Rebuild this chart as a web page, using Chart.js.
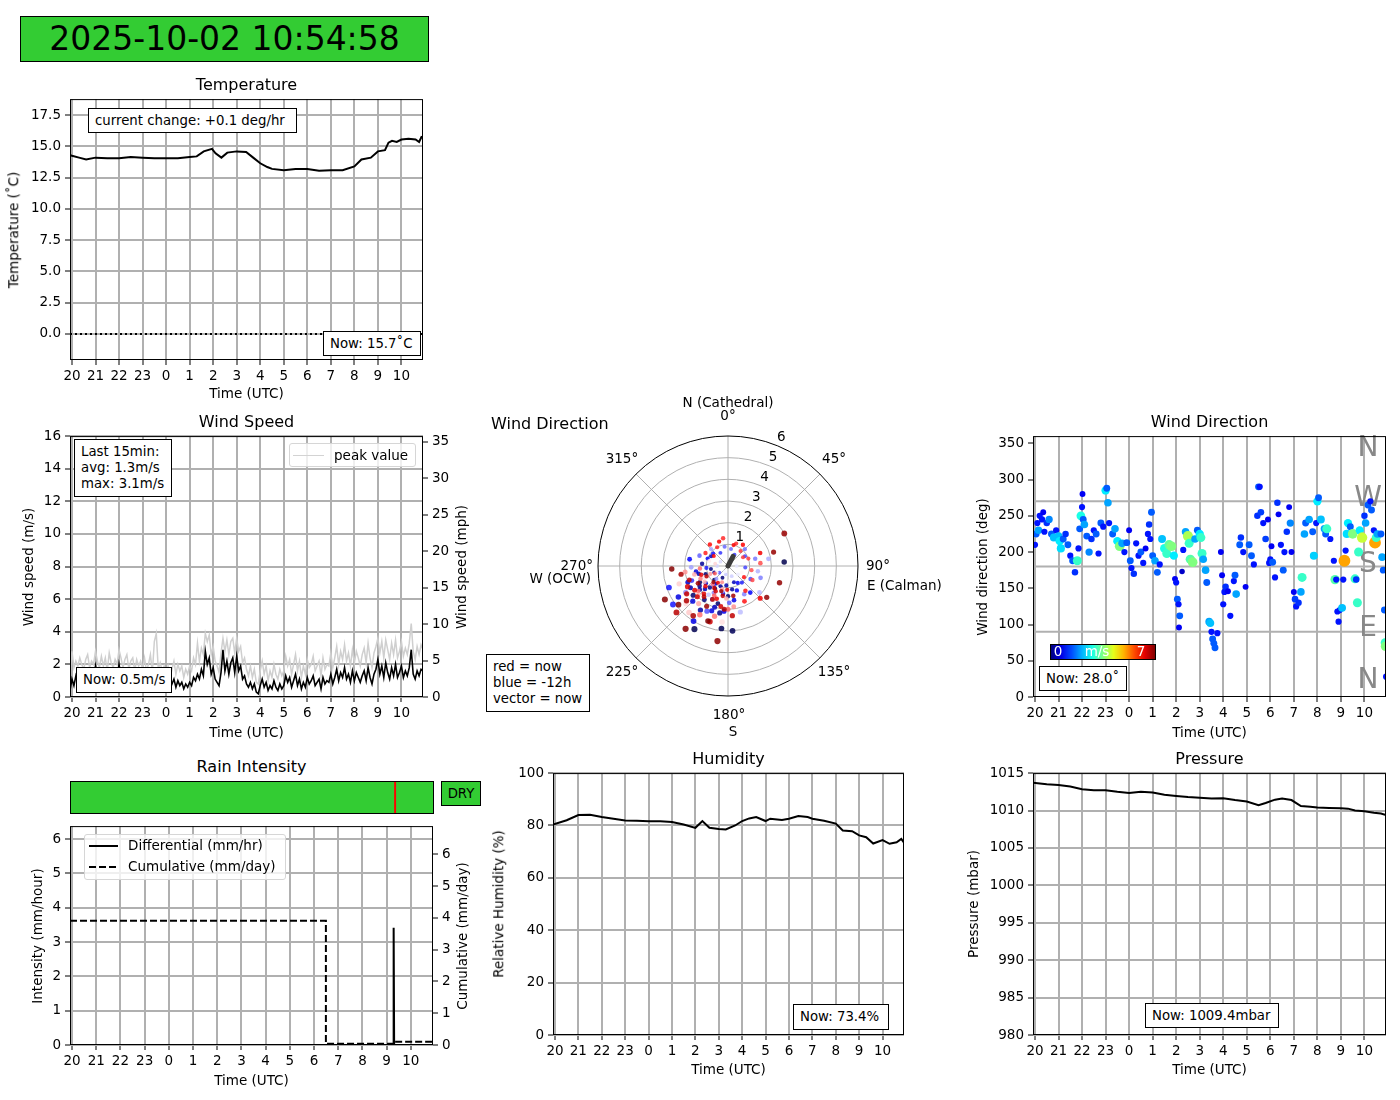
<!DOCTYPE html>
<html>
<head>
<meta charset="utf-8">
<script src="https://cdn.jsdelivr.net/npm/chart.js@4.4.1/dist/chart.umd.min.js"></script>
<style>
  body { margin: 0; background: #fff; }
  #page { position: relative; width: 1400px; height: 1100px; overflow: hidden; background: #fff;
          font-family: 'DejaVu Sans', sans-serif; color: #000; }
  #page canvas { position: absolute; }
  .lbl { position: absolute; white-space: pre; line-height: 1; }
  .box { position: absolute; box-sizing: border-box; border: 1px solid #000; background: #fff;
         font-size: 13.3px; white-space: pre; display: flex; align-items: center; padding-left: 6px; line-height: 16px; }
</style>
</head>
<body>
<div id="page">
  <canvas id="cTemp"></canvas>
  <canvas id="cWind"></canvas>
  <canvas id="cPolar"></canvas>
  <canvas id="cDir"></canvas>
  <canvas id="cRainBar"></canvas>
  <canvas id="cRain"></canvas>
  <canvas id="cHum"></canvas>
  <canvas id="cPres"></canvas>
</div>
<script>
// time axis: hours, 19:55 yesterday .. 10:55 today (hours < 19 belong to today, +24)
var X_MIN = 19.916, X_MAX = 34.916;
var hourTicks = [20, 21, 22, 23, 24, 25, 26, 27, 28, 29, 30, 31, 32, 33, 34];

// Temperature
var tempHours = [19.92, 20.0, 20.3, 20.6, 21.0, 21.5, 22.0, 22.5, 23.0, 23.5,
                 0.0, 0.5, 1.0, 1.3, 1.6, 1.95, 2.1, 2.35, 2.6, 3.0,
                 3.4, 3.7, 4.0, 4.3, 4.5, 5.0, 5.5, 6.0, 6.5, 7.0,
                 7.5, 8.0, 8.3, 8.7, 9.0, 9.3, 9.45, 9.6, 9.8, 10.0,
                 10.3, 10.6, 10.75, 10.85, 10.916];
var tempValues = [14.3, 14.25, 14.1, 13.95, 14.1, 14.05, 14.05, 14.15, 14.1, 14.05,
                  14.05, 14.05, 14.15, 14.2, 14.6, 14.8, 14.45, 14.1, 14.5, 14.6,
                  14.55, 14.1, 13.65, 13.35, 13.2, 13.1, 13.2, 13.2, 13.05, 13.1,
                  13.1, 13.4, 13.95, 14.1, 14.6, 14.7, 15.3, 15.45, 15.35, 15.55,
                  15.6, 15.55, 15.35, 15.75, 15.7];
var tempTicks = [0, 2.5, 5, 7.5, 10, 12.5, 15, 17.5];
var freezing = 0;

// Wind speed, 5 minute samples from 19:55
var windStep = 1 / 12;
var windAvg = [
  0.4, 1.1, 0.7, 1.3, 0.9, 1.5, 1.0, 0.8, 1.2, 1.6, 0.9, 1.3,
  1.1, 1.9, 1.2, 0.9, 1.4, 1.0, 1.3, 0.8, 1.5, 1.1, 0.9, 1.2,
  1.0, 2.0, 1.3, 0.9, 1.2, 1.5, 0.8, 1.1, 1.3, 0.7, 1.2, 0.9,
  1.1, 0.8, 1.3, 0.7, 1.0, 1.4, 0.6, 0.9, 1.2, 0.8, 1.0, 0.7,
  0.9, 0.6, 0.9, 0.5, 0.8, 1.1, 0.6, 1.0, 0.7, 0.9, 0.5, 0.8,
  0.6, 0.9, 0.7, 1.2, 1.0, 1.4, 1.1, 1.7, 1.3, 2.8, 2.0, 2.4,
  1.4, 1.8, 1.1, 0.9, 0.7, 1.5, 2.9, 1.6, 2.2, 1.4, 2.1, 2.4,
  1.5, 2.5, 1.6, 1.9, 1.1, 1.3, 0.8, 0.6, 0.9, 0.5, 0.8, 0.3,
  0.2, 0.7, 1.1, 0.6, 0.9, 0.4, 0.7, 0.5, 1.0, 0.6, 0.4, 0.8,
  0.5, 0.7, 1.3, 0.9, 1.2, 0.6, 1.0, 1.4, 0.7, 1.1, 0.5, 0.9,
  0.6, 1.2, 0.8, 1.0, 1.3, 0.7, 0.9, 1.1, 0.5, 1.2, 0.8, 1.0,
  0.9, 1.4, 0.8, 1.2, 1.7, 1.0, 1.5, 1.2, 1.8, 1.1, 1.4, 0.9,
  1.6, 1.0, 1.5, 1.2, 0.9, 1.3, 1.6, 1.0, 1.8, 1.2, 0.8, 1.4,
  1.7, 2.3, 1.4, 1.9, 1.2, 2.1, 1.5, 1.1, 1.8, 1.3, 2.0, 1.2,
  1.5, 1.9, 1.2, 1.6, 1.3, 1.8, 2.9, 1.4, 1.1, 1.6, 1.3, 1.7,
  1.6];
var windPeak = [
  1.2, 2.8, 1.8, 2.2, 1.9, 2.4, 2.0, 1.7, 2.3, 2.6, 1.8, 2.2,
  2.0, 2.8, 2.2, 1.8, 2.5, 1.9, 2.4, 1.6, 2.7, 2.1, 1.8, 2.3,
  2.0, 2.9, 2.4, 1.8, 2.3, 2.6, 1.7, 2.2, 2.4, 1.6, 2.3, 1.9,
  2.2, 1.7, 2.4, 1.6, 2.0, 2.6, 1.5, 3.4, 3.9, 1.7, 2.1, 1.6,
  1.9, 1.4, 1.9, 1.2, 1.7, 2.2, 1.4, 2.0, 1.6, 1.9, 1.2, 1.7,
  1.4, 1.9, 1.6, 2.4, 2.0, 3.3, 2.2, 3.0, 2.6, 3.9, 3.4, 3.8,
  2.6, 3.1, 2.2, 1.9, 1.5, 2.7, 3.6, 2.8, 3.5, 2.6, 3.4, 3.6,
  2.7, 3.6, 2.8, 3.1, 2.1, 2.4, 1.7, 1.3, 1.9, 1.2, 1.7, 0.9,
  0.8, 1.6, 2.2, 1.4, 1.9, 1.0, 1.6, 1.2, 2.0, 1.4, 1.1, 1.7,
  1.3, 1.6, 2.5, 1.9, 2.3, 1.4, 2.0, 2.6, 1.6, 2.2, 1.2, 1.9,
  1.4, 2.3, 1.8, 2.0, 2.5, 1.6, 1.9, 2.2, 1.3, 2.4, 1.7, 2.0,
  1.9, 2.7, 1.8, 2.4, 3.1, 2.0, 2.8, 2.3, 3.2, 2.2, 2.7, 1.9,
  2.9, 2.1, 2.8, 2.4, 1.9, 2.6, 3.0, 2.1, 3.3, 2.4, 1.8, 2.7,
  3.1, 3.6, 2.7, 3.4, 2.4, 3.5, 2.9, 2.3, 3.3, 2.6, 3.5, 2.4,
  2.8, 3.4, 2.5, 3.0, 2.6, 3.3, 4.5, 2.8, 2.3, 3.1, 2.6, 3.2,
  2.9];
var windTicks = [0, 2, 4, 6, 8, 10, 12, 14, 16];
var mphTicks = [0, 5, 10, 15, 20, 25, 30, 35];
var MPH_PER_MPS = 2.23694;

// Wind direction polar: direction (deg), speed (m/s), oldest (blue) to newest (red)
var polarDirDeg = [
  86, 208, 186, 176, 210, 225, 240, 195, 230, 250,
  205, 180, 215, 260, 235, 190, 220, 245, 200, 275,
  170, 230, 212, 255, 185, 240, 300, 160, 225, 198,
  215, 232, 248, 205, 190, 260, 225, 238, 200, 212,
  170, 185, 160, 150, 140, 280, 290, 310, 250, 235,
  265, 140, 218, 248, 330, 30, 60, 95, 120, 205,
  232, 178, 290, 350, 10, 45, 75, 110, 150, 208,
  238, 222, 192, 268, 315, 80, 100, 130, 165, 214,
  195, 160, 270, 300, 20, 90, 130, 240, 210, 340,
  55, 115, 175, 285, 244, 186, 228, 280, 250, 220,
  226, 204, 236, 183, 256, 218, 194, 246, 262, 172,
  200, 220, 245, 195, 230, 210, 265, 180, 205, 240,
  100, 85, 120, 70, 60, 40, 20, 350, 330, 300,
  145, 155, 125, 320, 305, 35, 15, 340, 68, 135,
  228, 211, 199, 252, 234, 182, 221, 243, 206, 190,
  225, 212, 198, 236, 250, 190, 175, 218, 244, 228,
  205, 230, 185, 260, 215, 195, 240, 170, 222, 208,
  60, 73, 108, 129, 188, 214, 242, 267, 232, 200];
var polarSpeed = [
  2.6, 3.3, 2.9, 3.0, 1.2, 0.9, 1.5, 1.8, 2.1, 1.1,
  0.6, 1.4, 1.9, 0.8, 1.6, 2.2, 1.3, 0.7, 1.0, 1.2,
  1.1, 1.7, 2.4, 1.4, 0.9, 2.0, 0.9, 0.8, 1.5, 2.0,
  1.0, 1.3, 2.0, 1.7, 1.3, 1.5, 2.3, 2.7, 2.2, 3.0,
  1.6, 2.1, 1.2, 0.9, 1.6, 1.8, 1.0, 0.9, 2.9, 3.1,
  1.0, 1.0, 1.1, 1.8, 0.7, 0.6, 0.9, 0.8, 1.2, 2.3,
  0.5, 1.7, 1.4, 0.9, 0.8, 1.1, 1.3, 1.6, 1.5, 1.4,
  2.3, 0.8, 1.2, 1.7, 1.1, 1.9, 1.4, 1.9, 2.2, 1.6,
  0.4, 0.5, 0.5, 0.4, 0.3, 0.4, 0.6, 0.6, 0.3, 0.5,
  0.5, 0.7, 0.7, 0.9, 1.2, 2.6, 2.6, 0.6, 2.4, 2.8,
  1.9, 1.7, 1.3, 1.5, 1.6, 2.2, 1.1, 0.9, 2.0, 1.9,
  0.8, 1.1, 1.4, 2.4, 1.8, 2.6, 1.3, 2.0, 1.5, 0.7,
  1.1, 1.5, 1.3, 1.0, 0.8, 0.9, 1.1, 1.3, 1.0, 1.2,
  1.4, 1.8, 0.9, 1.3, 0.8, 1.2, 1.0, 1.2, 1.6, 2.1,
  1.4, 0.9, 1.6, 1.3, 1.9, 1.1, 1.7, 2.1, 1.3, 1.9,
  2.0, 1.2, 2.7, 2.3, 1.9, 1.4, 2.3, 1.8, 1.1, 3.2,
  1.7, 2.5, 2.0, 2.2, 2.8, 1.2, 1.6, 1.4, 1.0, 2.1,
  3.0, 2.2, 2.5, 2.3, 3.5, 3.5, 3.3, 2.6, 2.9, 2.7];
var polarRMax = 6;
var polarRings = [1, 2, 3, 4, 5];
var polarSpokes = [0, 45, 90, 135, 180, 225, 270, 315];
var nowDirDeg = 28.0, nowSpeed = 0.5;

// Wind direction vs time, coloured by speed
var windDirHour = [
  20.0, 20.05, 20.1, 20.15, 20.2, 20.3, 20.35, 20.4, 20.5, 20.6, 20.7, 20.8, 20.9,
  21.0, 21.05, 21.1, 21.2, 21.3, 21.4, 21.5, 21.6, 21.7, 21.8, 21.85, 21.9, 21.95,
  22.0, 22.02, 22.05, 22.1, 22.2, 22.3, 22.4, 22.5, 22.6, 22.7, 22.8, 22.9,
  23.0, 23.05, 23.1, 23.15, 23.3, 23.4, 23.5, 23.6, 23.7, 23.8, 23.9,
  0.0, 0.05, 0.1, 0.2, 0.3, 0.4, 0.5, 0.6, 0.7, 0.8, 0.85, 0.9, 0.95,
  1.0, 1.1, 1.2, 1.3, 1.4, 1.5, 1.6, 1.7, 1.8, 1.9, 1.95,
  2.0, 2.05, 2.1, 2.12, 2.15, 2.25, 2.3, 2.4, 2.5, 2.55, 2.6, 2.7, 2.8, 2.9,
  3.0, 3.05, 3.1, 3.15, 3.25, 3.3, 3.4, 3.45, 3.5, 3.55, 3.6, 3.65, 3.75, 3.9, 3.95,
  4.0, 4.05, 4.1, 4.2, 4.3, 4.45, 4.5, 4.55, 4.7, 4.75, 4.85, 4.95,
  5.1, 5.2, 5.3, 5.45, 5.5, 5.55, 5.6, 5.7, 5.8, 5.9, 5.95,
  6.0, 6.05, 6.1, 6.2, 6.3, 6.35, 6.45, 6.55, 6.6, 6.7, 6.8, 6.85, 6.9,
  7.0, 7.05, 7.1, 7.2, 7.3, 7.35, 7.45, 7.5, 7.65, 7.8, 7.85, 7.95,
  8.0, 8.05, 8.15, 8.3, 8.35, 8.4, 8.55, 8.7, 8.75, 8.8, 8.85, 8.9, 8.95,
  9.05, 9.1, 9.15, 9.2, 9.25, 9.3, 9.4, 9.5, 9.6, 9.65, 9.7, 9.75, 9.8, 9.9,
  10.0, 10.05, 10.15, 10.25, 10.3, 10.4, 10.45, 10.5, 10.55, 10.7, 10.75, 10.8, 10.85, 10.88, 10.9, 10.92];
var windDirDeg = [
  210, 225, 240, 230, 250, 245, 255, 228, 240, 245, 225, 220, 230,
  222, 215, 205, 218, 225, 210, 195, 188, 172, 188, 205, 232, 250,
  262, 280, 245, 238, 222, 200, 218, 230, 225, 198, 240, 235,
  285, 288, 268, 240, 225, 232, 215, 208, 212, 200, 213,
  230, 188, 178, 170, 212, 195, 200, 185, 205, 225, 238, 218, 255,
  195, 188, 172, 183, 218, 205, 198, 210, 208, 195, 163,
  158, 135, 128, 96, 112, 173, 203, 228, 222, 212, 190, 186, 218, 230,
  225, 220, 198, 190, 175, 158, 104, 102, 90, 80, 74, 68, 88, 200, 168,
  128, 145, 152, 146, 112, 160, 168, 142, 210, 220, 200, 152,
  210, 195, 183, 250, 290, 290, 255, 240, 218, 245, 185,
  190, 208, 186, 165, 268, 252, 210, 175, 200, 228, 262, 240, 200,
  145, 135, 125, 130, 145, 165, 225, 240, 245, 228, 195, 240,
  270, 275, 245, 232, 225, 232, 218, 188, 162, 162, 118, 104, 120,
  123, 162, 188, 202, 225, 240, 235, 225, 163, 162, 130, 200, 230, 220,
  250, 240, 265, 270, 258, 230, 213, 220, 225, 225, 193, 175, 120, 75, 70, 28];
var windDirSpeed = [
  1, 1.5, 1, 2, 1, 1, 0.8, 1, 1.2, 1.8, 1.5, 2.2, 1,
  2.2, 2.5, 2.4, 1.5, 1.2, 1.5, 1, 1.5, 1.2, 3, 1, 1.5, 2.8,
  1, 0.8, 1.5, 2, 1.5, 1.8, 1.2, 1, 1.5, 1, 1.5, 1,
  2.5, 1.5, 2, 1, 1.5, 2, 2.5, 3.5, 2, 1, 1.5,
  0.8, 1.5, 1, 1.2, 1, 1, 1.5, 1, 0.8, 1, 1.2, 1, 1.5,
  1.5, 2, 1.5, 1, 2.2, 2.8, 3, 3.3, 3.5, 2.5, 0.8,
  1, 1.5, 1, 0.8, 1.5, 0.5, 1, 2, 3.8, 3, 3.2, 3.5, 2, 1.5,
  2.5, 3, 3, 2, 2, 1.5, 2, 2.2, 1, 1.5, 1.5, 1.5, 1, 0.8, 0.8,
  1, 1, 1.2, 0.8, 1, 1, 1.5, 2, 1.5, 1.2, 1, 0.8,
  1.5, 1.5, 1, 1.2, 1.5, 1, 1.3, 1, 1.3, 0.8, 1,
  1, 0.8, 1.5, 1, 1.2, 0.8, 1, 1.5, 1, 1.2, 0.8, 1.8, 0.8,
  0.8, 1.3, 1, 1.2, 2, 3, 2, 1.5, 2, 1.5, 2.3, 1,
  2.5, 1.5, 2.2, 2, 1.5, 3, 1, 1, 3.2, 1, 1, 1, 1,
  2.2, 1, 5, 1, 2.4, 2.5, 1.5, 3.5, 3, 1.2, 3, 3, 2.5, 4,
  1.2, 2, 1.5, 1, 1.5, 1, 5, 3, 2, 1.5, 2, 1.5, 1.5, 3, 3.5, 1];
var dirTicks = [0, 50, 100, 150, 200, 250, 300, 350];
var dirGridValues = [90, 180, 270];
var speedColorMax = 7;

// Rain
var rainDiffHours = [19.916, 9.27, 9.29, 9.31, 10.916];
var rainDiffValues = [0, 0, 3.42, 0, 0];
var rainCumHours = [19.916, 6.49, 6.49, 9.3, 9.3, 10.916];
var rainCumValues = [3.91, 3.91, 0.04, 0.04, 0.1, 0.1];
var rainStateStart = [19.916, 9.26, 9.34];
var rainStateEnd = [9.26, 9.34, 10.916];
var rainStateWet = [false, true, false];
var rainTicks = [0, 1, 2, 3, 4, 5, 6];

// Humidity
var humHours = [19.916, 20.5, 21.0, 21.5, 22.0, 22.5, 23.0, 23.5, 0.0, 0.5,
                1.0, 1.5, 2.0, 2.3, 2.6, 3.0, 3.3, 3.7, 4.0, 4.3,
                4.6, 5.0, 5.2, 5.7, 6.0, 6.4, 6.8, 7.0, 7.5, 8.0,
                8.3, 8.7, 9.0, 9.3, 9.6, 10.0, 10.3, 10.6, 10.8, 10.916];
var humValues = [80.4, 82.0, 84.0, 84.1, 83.2, 82.6, 81.9, 81.8, 81.6, 81.6,
                 81.3, 80.4, 79.1, 81.7, 79.1, 78.7, 78.5, 80.0, 81.7, 82.7,
                 83.2, 81.7, 82.6, 82.1, 82.6, 83.6, 83.2, 82.6, 81.8, 80.7,
                 78.1, 77.8, 76.2, 75.5, 73.1, 74.4, 73.0, 73.6, 74.9, 73.4];
var humTicks = [0, 20, 40, 60, 80, 100];

// Pressure
var presHours = [19.916, 20.5, 21.0, 21.5, 22.0, 22.5, 23.0, 23.5, 0.0, 0.5,
                 1.0, 1.5, 2.0, 2.5, 3.0, 3.5, 4.0, 4.5, 5.0, 5.5,
                 5.8, 6.2, 6.5, 6.9, 7.3, 7.7, 8.0, 8.5, 9.0, 9.3,
                 9.6, 10.0, 10.4, 10.7, 10.916];
var presValues = [1013.7, 1013.5, 1013.4, 1013.2, 1012.85, 1012.7, 1012.7, 1012.5, 1012.35, 1012.5,
                  1012.4, 1012.1, 1011.95, 1011.8, 1011.7, 1011.6, 1011.65, 1011.4, 1011.2, 1010.7,
                  1011.0, 1011.45, 1011.6, 1011.4, 1010.6, 1010.5, 1010.4, 1010.35, 1010.3, 1010.25,
                  1010.0, 1009.9, 1009.7, 1009.6, 1009.4];
var presTicks = [980, 985, 990, 995, 1000, 1005, 1010, 1015];

var GREEN = '#33cc33';

// ---------------------------------------------------------------------------
Chart.defaults.font.family = "'DejaVu Sans', sans-serif";
Chart.defaults.font.size = 13.5;
Chart.defaults.color = '#000';
Chart.defaults.animation = false;
Chart.defaults.responsive = false;
Chart.defaults.plugins.legend.display = false;
Chart.defaults.plugins.tooltip.enabled = false;

function toAxis(h) { return h < 19 ? h + 24 : h; }
function pts(hours, values) {
    return hours.map(function(h, i) { return { x: toAxis(h), y: values[i] }; });
}
function clamp(v) { return Math.max(0, Math.min(1, v)); }
function rgb(r, g, b, a) {
    return 'rgba(' + Math.round(r * 255) + ',' + Math.round(g * 255) + ',' + Math.round(b * 255) + ',' + (a == null ? 1 : a) + ')';
}
function jet(t) {
    return rgb(clamp(1.5 - Math.abs(4 * t - 3)), clamp(1.5 - Math.abs(4 * t - 2)), clamp(1.5 - Math.abs(4 * t - 1)));
}
function seismic(t, a) {
    var st = [[0, 0, 0, 0.3], [0.25, 0, 0, 1], [0.5, 1, 1, 1], [0.75, 1, 0, 0], [1, 0.5, 0, 0]];
    for (var i = 1; i < st.length; i++) {
        if (t <= st[i][0]) {
            var p = st[i - 1], q = st[i], f = (t - p[0]) / (q[0] - p[0]);
            return rgb(p[1] + (q[1] - p[1]) * f, p[2] + (q[2] - p[2]) * f, p[3] + (q[3] - p[3]) * f, a);
        }
    }
    return rgb(0.5, 0, 0, a);
}

var M = { left: 70, top: 12, bottom: 40 };

function setupCanvas(id, area, rightW) {
    var c = document.getElementById(id);
    c.width = area.r - area.l + M.left + rightW;
    c.height = area.b - area.t + M.top + M.bottom;
    c.style.left = (area.l - M.left) + 'px';
    c.style.top = (area.t - M.top) + 'px';
    return c;
}

function gridOpts(onArea) {
    return { display: true, drawOnChartArea: onArea, color: '#b0b0b0', lineWidth: 2,
             drawTicks: true, tickLength: 5, tickWidth: 1, tickColor: '#000' };
}

function xAxis() {
    return {
        type: 'linear', position: 'bottom', min: X_MIN, max: X_MAX,
        afterBuildTicks: function(s) { s.ticks = hourTicks.map(function(v) { return { value: v }; }); },
        afterFit: function(s) { s.height = M.bottom; },
        ticks: { autoSkip: false, maxRotation: 0, padding: 3, callback: function(v) { return String(v % 24); } },
        grid: gridOpts(true),
        border: { display: false }
    };
}

function yAxis(min, max, ticks, digits, gridOn, position, width) {
    return {
        type: 'linear', position: position, min: min, max: max,
        afterBuildTicks: function(s) { s.ticks = ticks.map(function(v) { return { value: v }; }); },
        afterFit: function(s) { s.width = width; },
        ticks: { autoSkip: false, padding: 4, callback: function(v) { return v.toFixed(digits); } },
        grid: gridOpts(gridOn),
        border: { display: false }
    };
}

// black box around the plot area
var framePlugin = {
    id: 'frame',
    afterDatasetsDraw: function(chart) {
        var a = chart.chartArea, ctx = chart.ctx;
        ctx.save();
        ctx.strokeStyle = '#000';
        ctx.lineWidth = 1;
        ctx.strokeRect(a.left + 0.5, a.top + 0.5, a.right - a.left - 1, a.bottom - a.top - 1);
        ctx.restore();
    }
};

function lineChart(id, area, rightW, datasets, scales, extra) {
    var c = setupCanvas(id, area, rightW);
    return new Chart(c, {
        type: 'line',
        data: { datasets: datasets },
        options: {
            layout: { autoPadding: false, padding: { top: M.top, left: 0, bottom: 0, right: scales.y2 ? 0 : rightW } },
            elements: { point: { radius: 0 }, line: { tension: 0 } },
            scales: scales
        },
        plugins: [framePlugin].concat(extra || [])
    });
}

// Temperature
lineChart('cTemp', { l: 70, t: 99, r: 423, b: 360 }, 10, [
    { data: pts(tempHours, tempValues), borderColor: '#000', borderWidth: 2, order: 1 },
    { data: [{ x: X_MIN, y: freezing }, { x: X_MAX, y: freezing }], borderColor: '#000', borderWidth: 2, borderDash: [2, 3], order: 2 }
], { x: xAxis(), y: yAxis(-2.08, 18.78, tempTicks, 1, true, 'left', M.left) });

// Wind speed
var windAvgPts = windAvg.map(function(v, i) { return { x: X_MIN + i * windStep, y: v }; });
var windPeakPts = windPeak.map(function(v, i) { return { x: X_MIN + i * windStep, y: v }; });
lineChart('cWind', { l: 70, t: 436, r: 423, b: 697 }, 45, [
    { data: windAvgPts, borderColor: '#000', borderWidth: 1.6, order: 1 },
    { data: windPeakPts, borderColor: '#cfcfcf', borderWidth: 1.5, order: 2 }
], {
    x: xAxis(),
    y: yAxis(0, 16, windTicks, 0, true, 'left', M.left),
    y2: yAxis(0, 16 * MPH_PER_MPS, mphTicks, 0, false, 'right', 45)
});

// Polar wind direction
(function() {
    var c = document.getElementById('cPolar');
    var pad = { left: 120, top: 50, right: 110, bottom: 50 };
    var size = 260;
    c.width = size + pad.left + pad.right;
    c.height = size + pad.top + pad.bottom;
    c.style.left = (598 - pad.left) + 'px';
    c.style.top = (436 - pad.top) + 'px';

    var n = polarDirDeg.length;
    var scatterPts = polarDirDeg.map(function(d, i) {
        var a = d * Math.PI / 180;
        return { x: polarSpeed[i] * Math.sin(a), y: polarSpeed[i] * Math.cos(a) };
    });
    var colors = polarDirDeg.map(function(d, i) { return seismic(i / (n - 1), 0.85); });
    var radii = polarSpeed.map(function(s) { return 1.7 + 0.4 * s; });
    var na = nowDirDeg * Math.PI / 180;

    var polarGrid = {
        id: 'polarGrid',
        beforeDatasetsDraw: function(chart) {
            var ctx = chart.ctx, sx = chart.scales.x, sy = chart.scales.y;
            var cx = sx.getPixelForValue(0), cy = sy.getPixelForValue(0);
            var R = sx.getPixelForValue(polarRMax) - cx;
            ctx.save();
            ctx.strokeStyle = '#b0b0b0';
            ctx.lineWidth = 1;
            polarRings.forEach(function(r) {
                ctx.beginPath(); ctx.arc(cx, cy, r / polarRMax * R, 0, 2 * Math.PI); ctx.stroke();
            });
            polarSpokes.forEach(function(d) {
                var a = d * Math.PI / 180;
                ctx.beginPath(); ctx.moveTo(cx, cy); ctx.lineTo(cx + R * Math.sin(a), cy - R * Math.cos(a)); ctx.stroke();
            });
            ctx.strokeStyle = '#000';
            ctx.beginPath(); ctx.arc(cx, cy, R, 0, 2 * Math.PI); ctx.stroke();
            ctx.restore();
        },
        afterDraw: function(chart) {
            var ctx = chart.ctx, sx = chart.scales.x, sy = chart.scales.y;
            var cx = sx.getPixelForValue(0), cy = sy.getPixelForValue(0);
            var R = sx.getPixelForValue(polarRMax) - cx;
            ctx.save();
            ctx.fillStyle = '#000';
            ctx.font = "13.5px 'DejaVu Sans'";
            ctx.textBaseline = 'middle';
            function put(t, x, y, al) { ctx.textAlign = al || 'center'; ctx.fillText(t, x, y); }
            // radial labels
            for (var r = 1; r <= polarRMax; r++) {
                var rr = (r + 0.42) / polarRMax * R, a = 22.5 * Math.PI / 180;
                put(String(r), cx + rr * Math.sin(a), cy - rr * Math.cos(a));
            }
            // angle labels
            [45, 135, 225, 315].forEach(function(d) {
                var a = d * Math.PI / 180, rr = R + 20;
                put(d + '°', cx + rr * Math.sin(a), cy - rr * Math.cos(a));
            });
            put('N (Cathedral)', cx, cy - R - 33);
            put('0°', cx, cy - R - 20);
            put('90°', cx + R + 8, cy, 'left');
            put('E (Calman)', cx + R + 9, cy + 20, 'left');
            put('270°', cx - R - 5, cy, 'right');
            put('W (OCW)', cx - R - 7, cy + 13, 'right');
            put('180°', cx + 1, cy + R + 19);
            put('S', cx + 5, cy + R + 36);
            ctx.restore();
        }
    };

    new Chart(c, {
        type: 'scatter',
        data: { datasets: [
            { data: [{ x: 0, y: 0 }, { x: nowSpeed * Math.sin(na), y: nowSpeed * Math.cos(na) }],
              showLine: true, borderColor: '#3c3c3c', borderWidth: 5, borderCapStyle: 'round', pointRadius: 0, order: 0 },
            { data: scatterPts, pointBackgroundColor: colors, pointRadius: radii, pointBorderWidth: 0, order: 1 }
        ] },
        options: {
            layout: { autoPadding: false, padding: pad },
            scales: {
                x: { type: 'linear', min: -polarRMax, max: polarRMax, display: false },
                y: { type: 'linear', min: -polarRMax, max: polarRMax, display: false }
            }
        },
        plugins: [polarGrid]
    });
})();

// Wind direction vs time
(function() {
    var area = { l: 1033, t: 436, r: 1386, b: 697 };
    var c = setupCanvas('cDir', area, 10);
    var dirPts = windDirHour.map(function(h, i) { return { x: toAxis(h), y: windDirDeg[i] }; });
    var cols = windDirSpeed.map(function(s) { return jet(Math.min(1, s / speedColorMax)); });
    var rad = windDirSpeed.map(function(s) { return 2.4 + 0.7 * s; });
    var compass = {
        id: 'compass',
        beforeDatasetsDraw: function(chart) {
            var ctx = chart.ctx, a = chart.chartArea, ys = chart.scales.y;
            ctx.save();
            ctx.strokeStyle = '#b0b0b0';
            ctx.lineWidth = 2;
            dirGridValues.forEach(function(v) {
                var y = ys.getPixelForValue(v);
                ctx.beginPath(); ctx.moveTo(a.left, y); ctx.lineTo(a.right, y); ctx.stroke();
            });
            ctx.fillStyle = '#888888';
            ctx.font = "28px 'DejaVu Sans'";
            ctx.textAlign = 'center';
            ctx.textBaseline = 'middle';
            [['N', 343], ['W', 273], ['S', 183], ['E', 94], ['N', 23]].forEach(function(p) {
                ctx.fillText(p[0], a.right - 18, ys.getPixelForValue(p[1]));
            });
            ctx.restore();
        }
    };
    new Chart(c, {
        type: 'scatter',
        data: { datasets: [{ data: dirPts, pointBackgroundColor: cols, pointRadius: rad, pointBorderWidth: 0 }] },
        options: {
            layout: { autoPadding: false, padding: { top: M.top, left: 0, bottom: 0, right: 10 } },
            scales: { x: xAxis(), y: yAxis(0, 360, dirTicks, 0, false, 'left', M.left) }
        },
        plugins: [compass, framePlugin]
    });
})();

// Rain status bar
(function() {
    var c = document.getElementById('cRainBar');
    c.width = 364; c.height = 33;
    c.style.left = '70px'; c.style.top = '781px';
    new Chart(c, {
        type: 'bar',
        data: { labels: ['rain'], datasets: rainStateStart.map(function(s, i) {
            return { data: [[toAxis(s), toAxis(rainStateEnd[i])]], backgroundColor: rainStateWet[i] ? '#ff0000' : GREEN,
                     borderWidth: 0, grouped: false, barPercentage: 1, categoryPercentage: 1 };
        }) },
        options: {
            indexAxis: 'y',
            layout: { autoPadding: false, padding: 0 },
            scales: {
                x: { type: 'linear', min: X_MIN, max: X_MAX, display: false },
                y: { display: false }
            }
        },
        plugins: [framePlugin]
    });
})();

// Rain intensity
lineChart('cRain', { l: 70, t: 826, r: 433, b: 1045 }, 45, [
    { data: pts(rainDiffHours, rainDiffValues), borderColor: '#000', borderWidth: 2, yAxisID: 'y', order: 1 },
    { data: pts(rainCumHours, rainCumValues), borderColor: '#000', borderWidth: 2, borderDash: [7, 3], yAxisID: 'y2', order: 2 }
], {
    x: xAxis(),
    y: yAxis(0, 6.38, rainTicks, 0, true, 'left', M.left),
    y2: yAxis(0, 6.89, rainTicks, 0, false, 'right', 45)
});

// Humidity
lineChart('cHum', { l: 553, t: 773, r: 904, b: 1035 }, 10, [
    { data: pts(humHours, humValues), borderColor: '#000', borderWidth: 2 }
], { x: xAxis(), y: yAxis(0, 100, humTicks, 0, true, 'left', M.left) });

// Pressure
lineChart('cPres', { l: 1033, t: 773, r: 1386, b: 1035 }, 10, [
    { data: pts(presHours, presValues), borderColor: '#000', borderWidth: 2 }
], { x: xAxis(), y: yAxis(980, 1015, presTicks, 0, true, 'left', M.left) });

// ---------------------------------------------------------------------------
// texts and boxes
var page = document.getElementById('page');
function text(str, x, y, o) {
    o = o || {};
    var d = document.createElement('div');
    d.className = 'lbl';
    d.textContent = str;
    d.style.left = x + 'px';
    d.style.top = y + 'px';
    d.style.fontSize = (o.size || 13.5) + 'px';
    if (o.color) d.style.color = o.color;
    var tx = o.align === 'left' ? '0' : (o.align === 'right' ? '-100%' : '-50%');
    d.style.transform = 'translate(' + tx + ',-50%)' + (o.rot ? ' rotate(' + o.rot + 'deg)' : '');
    page.appendChild(d);
    return d;
}
function box(str, l, t, w, h, o) {
    o = o || {};
    var d = document.createElement('div');
    d.className = 'box';
    d.textContent = str;
    d.style.left = l + 'px'; d.style.top = t + 'px';
    d.style.width = w + 'px'; d.style.height = h + 'px';
    if (o.bg) d.style.background = o.bg;
    if (o.center) { d.style.justifyContent = 'center'; d.style.paddingLeft = '0'; }
    if (o.size) d.style.fontSize = o.size + 'px';
    page.appendChild(d);
    return d;
}

// header
box('2025-10-02 10:54:58', 20, 16, 409, 46, { bg: GREEN, center: true, size: 33 });

// titles
text('Temperature', 246.5, 85, { size: 16 });
text('Wind Speed', 246.5, 422, { size: 16 });
text('Wind Direction', 491, 424, { size: 16, align: 'left' });
text('Wind Direction', 1209.5, 422, { size: 16 });
text('Rain Intensity', 251.5, 767, { size: 16 });
text('Humidity', 728.5, 759, { size: 16 });
text('Pressure', 1209.5, 759, { size: 16 });

// axis labels
text('Time (UTC)', 246.5, 394);
text('Time (UTC)', 246.5, 733);
text('Time (UTC)', 1209.5, 733);
text('Time (UTC)', 251.5, 1081);
text('Time (UTC)', 728.5, 1070);
text('Time (UTC)', 1209.5, 1070);
text('Temperature (˚C)', 14, 229.5, { rot: -90 });
text('Wind speed (m/s)', 29, 566.5, { rot: -90 });
text('Wind speed (mph)', 462, 566.5, { rot: -90 });
text('Wind direction (deg)', 983, 566.5, { rot: -90 });
text('Intensity (mm/hour)', 38, 935.5, { rot: -90 });
text('Cumulative (mm/day)', 463, 935.5, { rot: -90 });
text('Relative Humidity (%)', 499, 904, { rot: -90 });
text('Pressure (mbar)', 974, 904, { rot: -90 });

// annotations
box('current change: +0.1 deg/hr', 88, 108, 209, 25);
box('Now: 15.7˚C', 323, 331, 98, 25);
box('Last 15min:\navg: 1.3m/s\nmax: 3.1m/s', 74, 439, 98, 58);
box('Now: 0.5m/s', 76, 667, 96, 26);
box('red = now\nblue = -12h\nvector = now', 486, 654, 104, 58);
box('Now: 28.0˚', 1039, 666, 88, 25);
box('Now: 73.4%', 793, 1004, 96, 26);
box('Now: 1009.4mbar', 1145, 1003, 134, 25);
box('DRY', 441, 781, 40, 25, { bg: GREEN, center: true });

// colour bar for wind speed
(function() {
    var stops = [];
    for (var i = 0; i <= 10; i++) stops.push(jet(i / 10) + ' ' + (i * 10) + '%');
    var d = document.createElement('div');
    d.style.cssText = 'position:absolute;left:1050px;top:644px;width:106px;height:16px;box-sizing:border-box;border:1px solid #000;';
    d.style.background = 'linear-gradient(to right,' + stops.join(',') + ')';
    page.appendChild(d);
    text('0', 1058, 652, { color: '#fff' });
    text('m/s', 1097, 652, { color: '#fff' });
    text(String(speedColorMax), 1141, 652, { color: '#fff' });
})();

// legends
(function() {
    var lg = document.createElement('div');
    lg.style.cssText = 'position:absolute;left:289px;top:443px;width:127px;height:24px;box-sizing:border-box;' +
        'border:1px solid #d6d6d6;border-radius:3px;background:rgba(255,255,255,0.8);';
    page.appendChild(lg);
    var s = document.createElement('div');
    s.style.cssText = 'position:absolute;left:293px;top:455px;width:31px;height:1px;background:#d3d3d3;';
    page.appendChild(s);
    text('peak value', 334, 455.5, { align: 'left' });

    var rl = document.createElement('div');
    rl.style.cssText = 'position:absolute;left:84px;top:834px;width:202px;height:46px;box-sizing:border-box;' +
        'border:1px solid #d6d6d6;border-radius:3px;background:rgba(255,255,255,0.8);';
    page.appendChild(rl);
    var s1 = document.createElement('div');
    s1.style.cssText = 'position:absolute;left:89px;top:845px;width:29px;height:2px;background:#000;';
    page.appendChild(s1);
    var s2 = document.createElement('div');
    s2.style.cssText = 'position:absolute;left:89px;top:866px;width:29px;height:2px;' +
        'background:repeating-linear-gradient(to right,#000 0 7px,transparent 7px 10px);';
    page.appendChild(s2);
    text('Differential (mm/hr)', 128, 846, { align: 'left' });
    text('Cumulative (mm/day)', 128, 866.5, { align: 'left' });
})();
</script>
</body>
</html>
